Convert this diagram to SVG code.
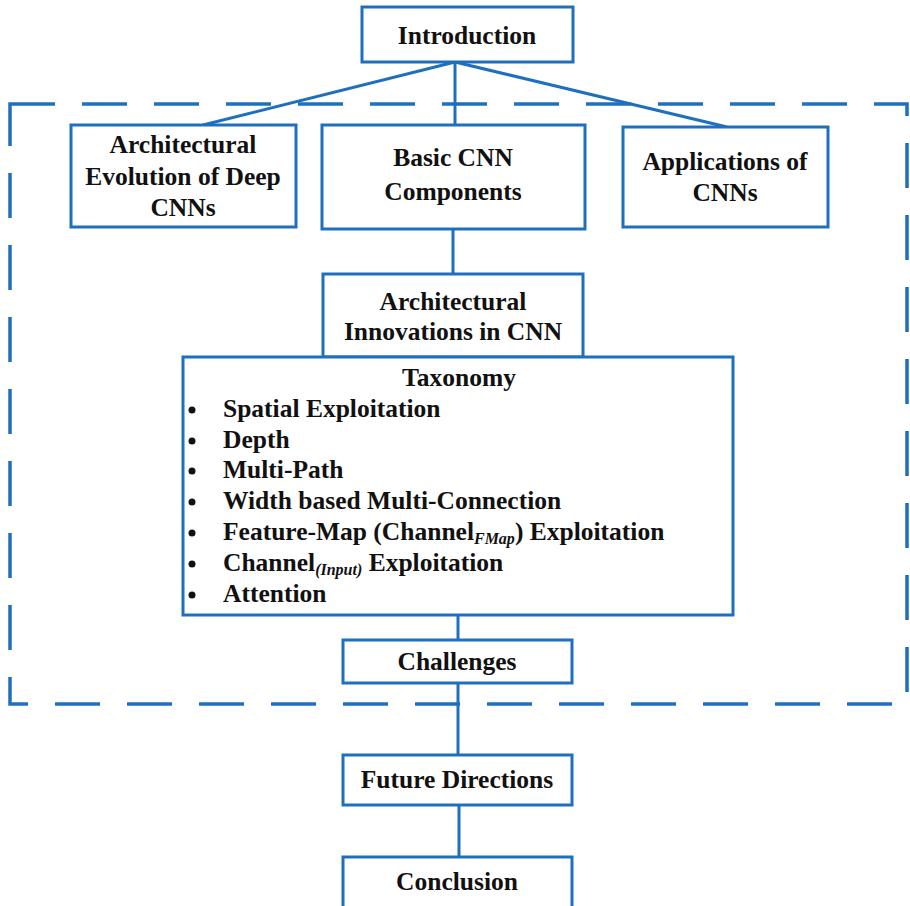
<svg xmlns="http://www.w3.org/2000/svg" width="910" height="906" viewBox="0 0 910 906">
  <style>
    .box { fill: #ffffff; stroke: #1f6fbf; stroke-width: 3; }
    .link { fill: none; stroke: #1f6fbf; stroke-width: 3; }
    .frame { fill: none; stroke: #1f6fbf; stroke-width: 3.5; stroke-dasharray: 45 27; }
    text { font-family: "Liberation Serif", "Times New Roman", serif; font-weight: bold; font-size: 25.5px; fill: #111111; }
    .c { text-anchor: middle; }
    .sub { font-size: 16px; font-style: italic; }
  </style>
  <rect width="910" height="906" fill="#ffffff"/>

  <!-- dashed frame around the core sections -->
  <rect class="frame" x="10" y="104" width="897" height="600"/>

  <!-- connectors -->
  <g id="connectors">
    <line class="link" x1="455" y1="62" x2="203" y2="125"/>
    <line class="link" x1="455" y1="62" x2="455" y2="125"/>
    <line class="link" x1="455" y1="62" x2="727" y2="127"/>
    <line class="link" x1="453" y1="229" x2="453" y2="274"/>
    <line class="link" x1="458" y1="615" x2="458" y2="640"/>
    <line class="link" x1="458" y1="683" x2="458" y2="755"/>
    <line class="link" x1="459" y1="805" x2="459" y2="857"/>
  </g>

  <g id="introduction">
    <rect class="box" x="362" y="7" width="211" height="55"/>
    <text class="c" x="467" y="44">Introduction</text>
  </g>

  <g id="evolution">
    <rect class="box" x="71" y="125" width="225" height="102"/>
    <text class="c" x="183" y="153">Architectural</text>
    <text class="c" x="183" y="185">Evolution of Deep</text>
    <text class="c" x="183" y="216">CNNs</text>
  </g>

  <g id="components">
    <rect class="box" x="322" y="125" width="263" height="104"/>
    <text class="c" x="453" y="166">Basic CNN</text>
    <text class="c" x="453" y="200">Components</text>
  </g>

  <g id="applications">
    <rect class="box" x="623" y="127" width="205" height="100"/>
    <text class="c" x="725" y="170">Applications of</text>
    <text class="c" x="725" y="201">CNNs</text>
  </g>

  <g id="innovations">
    <rect class="box" x="323" y="274" width="260" height="83"/>
    <text class="c" x="453" y="310">Architectural</text>
    <text class="c" x="453" y="340">Innovations in CNN</text>
  </g>

  <g id="taxonomy">
    <rect class="box" x="183" y="357" width="550" height="258"/>
    <text class="c" x="459" y="386">Taxonomy</text>
    <g fill="#111111">
      <circle cx="192" cy="410" r="3.5"/>
      <circle cx="192" cy="441" r="3.5"/>
      <circle cx="192" cy="471" r="3.5"/>
      <circle cx="192" cy="502" r="3.5"/>
      <circle cx="192" cy="533" r="3.5"/>
      <circle cx="192" cy="564" r="3.5"/>
      <circle cx="192" cy="595" r="3.5"/>
    </g>
    <text x="223" y="417">Spatial Exploitation</text>
    <text x="223" y="448">Depth</text>
    <text x="223" y="478">Multi-Path</text>
    <text x="223" y="509">Width based Multi-Connection</text>
    <text x="223" y="540">Feature-Map (Channel<tspan class="sub" dy="4">FMap</tspan><tspan dy="-4">) Exploitation</tspan></text>
    <text x="223" y="571">Channel<tspan class="sub" dy="4">(Input)</tspan><tspan dy="-4"> Exploitation</tspan></text>
    <text x="223" y="602">Attention</text>
  </g>

  <g id="challenges">
    <rect class="box" x="343" y="640" width="229" height="43"/>
    <text class="c" x="457" y="670">Challenges</text>
  </g>

  <g id="future">
    <rect class="box" x="343" y="755" width="229" height="50"/>
    <text class="c" x="457" y="788">Future Directions</text>
  </g>

  <g id="conclusion">
    <rect class="box" x="343" y="857" width="229" height="60"/>
    <text class="c" x="457" y="890">Conclusion</text>
  </g>
</svg>
